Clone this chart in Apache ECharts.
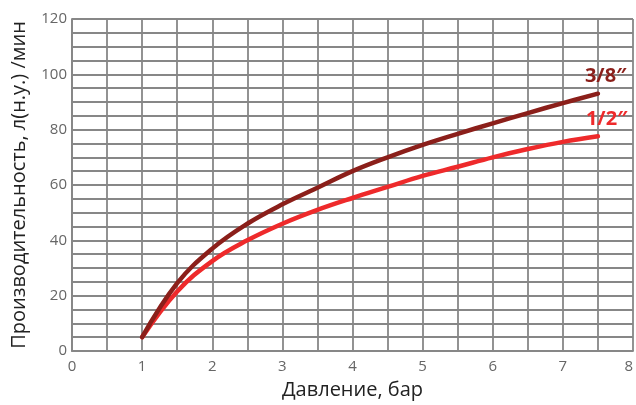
<!DOCTYPE html>
<html>
<head>
<meta charset="utf-8">
<script src="https://cdn.jsdelivr.net/npm/echarts@6/dist/echarts.min.js"></script>
<style>html,body{margin:0;padding:0;background:#fff;}#c{width:636px;height:405px;}</style>
</head>
<body>
<div id="c"></div>
<script>
const pressure = [1, 1.5, 2, 2.5, 3, 3.5, 4, 4.5, 5, 5.5, 6, 6.5, 7, 7.5];
const flow38 = [5, 24.5, 37, 46, 53, 59, 65, 70, 74.5, 78.5, 82.3, 86, 89.6, 93];
const flow12 = [5, 21.5, 32.5, 40, 46, 51, 55.3, 59.3, 63.3, 66.6, 70, 73, 75.6, 77.6];
const seriesNames = ['3/8\u2033', '1/2\u2033'];
const xTitle = 'Давление, бар';
const yTitle = 'Производительность, л(н.у.) /мин';

const chart = echarts.init(document.getElementById('c'));
const gridLine = { color: '#878787', width: 1.8 };
const font = '"Open Sans", "Noto Sans", sans-serif';
function pairs(xs, ys) { return xs.map((x, i) => [x, ys[i]]); }
chart.setOption({
  animation: false,
  backgroundColor: '#fff',
  grid: { left: 72, top: 19, right: 0, bottom: 51 },
  xAxis: {
    type: 'value', min: 0, max: 8, interval: 1,
    name: xTitle, nameLocation: 'middle', nameGap: 29,
    nameTextStyle: { fontFamily: font, fontSize: 20, color: '#222' },
    axisLine: { show: true, lineStyle: gridLine },
    axisTick: { show: false },
    axisLabel: { margin: 8, fontFamily: font, fontSize: 15, color: '#666', alignMaxLabel: 'right' },
    splitLine: { show: true, lineStyle: gridLine },
    minorTick: { show: false, splitNumber: 2 },
    minorSplitLine: { show: true, lineStyle: gridLine }
  },
  yAxis: {
    type: 'value', min: 0, max: 120, interval: 20,
    name: yTitle, nameLocation: 'middle', nameGap: 43,
    nameTextStyle: { fontFamily: font, fontSize: 20, color: '#222' },
    axisLine: { show: true, lineStyle: gridLine },
    axisTick: { show: false },
    axisLabel: { margin: 5, fontFamily: font, fontSize: 15, color: '#666' },
    splitLine: { show: true, lineStyle: gridLine },
    minorTick: { show: false, splitNumber: 4 },
    minorSplitLine: { show: true, lineStyle: gridLine }
  },
  series: [
    {
      name: seriesNames[1], type: 'line', smooth: 0.4, symbol: 'none',
      data: pairs(pressure, flow12),
      lineStyle: { color: '#ee2a2b', width: 4.5, cap: 'round' },
      endLabel: { show: true, formatter: seriesNames[1], distance: 0, offset: [-12, -17],
        fontFamily: '"Liberation Sans Narrow", "Open Sans", sans-serif', fontWeight: 'bold', fontSize: 20, color: '#ee2a2b' }
    },
    {
      name: seriesNames[0], type: 'line', smooth: 0.4, symbol: 'none',
      data: pairs(pressure, flow38),
      lineStyle: { color: '#8b1f1a', width: 4.5, cap: 'round' },
      endLabel: { show: true, formatter: seriesNames[0], distance: 0, offset: [-13, -17],
        fontFamily: '"Liberation Sans Narrow", "Open Sans", sans-serif', fontWeight: 'bold', fontSize: 20, color: '#8b1f1a' }
    }
  ]
});
</script>
</body>
</html>
